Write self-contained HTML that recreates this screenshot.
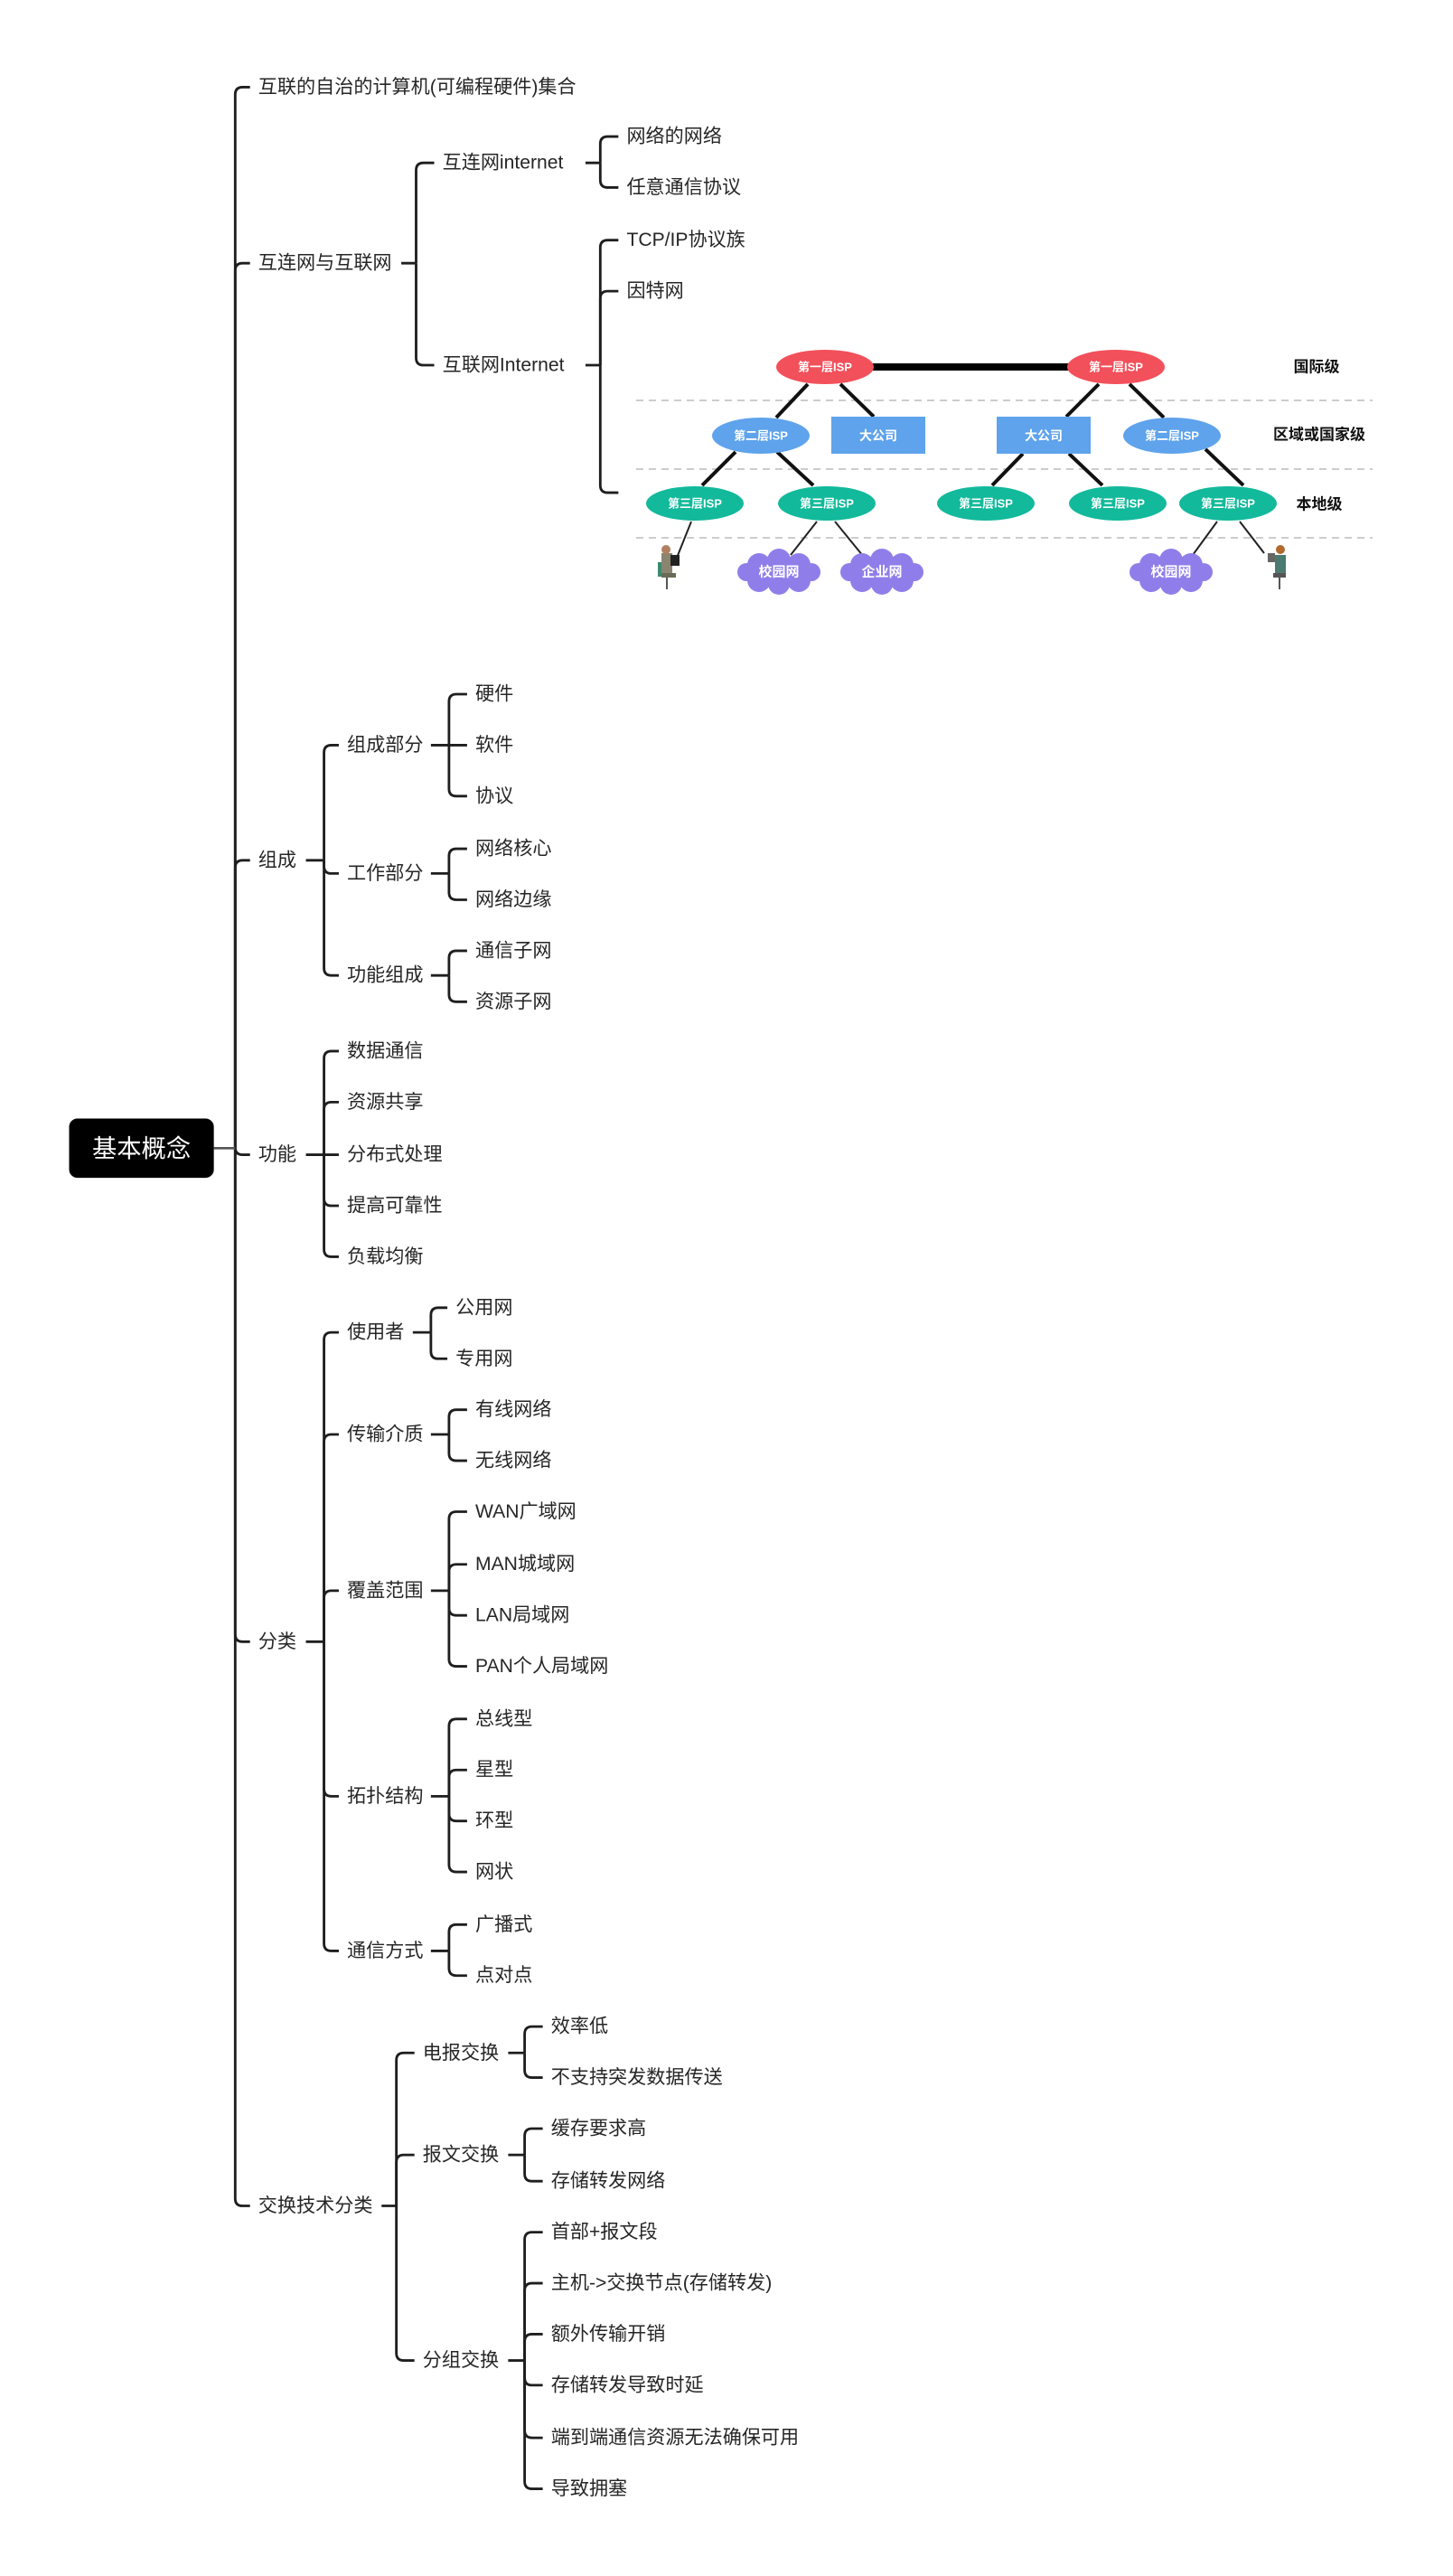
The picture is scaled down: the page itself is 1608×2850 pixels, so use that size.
<!DOCTYPE html>
<html><head><meta charset="utf-8"><style>
html,body{margin:0;padding:0;background:#fff;}
svg{display:block;}
.t{font-family:"Liberation Sans","Noto Sans CJK SC",sans-serif;font-size:11.6px;fill:#262626;dominant-baseline:central;}
.c{fill:none;stroke:#1e1e1e;stroke-width:1.55;stroke-linecap:butt;}
.w{font-family:"Liberation Sans","Noto Sans CJK SC",sans-serif;font-weight:bold;fill:#fff;text-anchor:middle;dominant-baseline:central;}
.k{font-family:"Liberation Sans","Noto Sans CJK SC",sans-serif;font-weight:bold;fill:#111;text-anchor:middle;dominant-baseline:central;}
</style></head><body>
<svg id="s" width="1608" height="2850" viewBox="0 0 883.5 1566" xmlns="http://www.w3.org/2000/svg">
<g id="conn"></g>
<!-- root -->
<line x1="130" y1="698" x2="143" y2="698" stroke="#555" stroke-width="1.5"/>
<rect x="42" y="680" width="88" height="36" rx="5" fill="#000"/>
<text x="86" y="698" class="w" style="font-weight:normal;font-size:15px">基本概念</text>

<!-- level 1 -->
<text class="t" x="157" y="53">互联的自治的计算机(可编程硬件)集合</text>
<text class="t" x="157" y="160">互连网与互联网</text>
<text class="t" x="157" y="523">组成</text>
<text class="t" x="157" y="702">功能</text>
<text class="t" x="157" y="998">分类</text>
<text class="t" x="157" y="1341">交换技术分类</text>

<text class="t" x="269" y="99">互连网internet</text>
<text class="t" x="269" y="222">互联网Internet</text>
<text class="t" x="381" y="83">网络的网络</text>
<text class="t" x="381" y="114">任意通信协议</text>
<text class="t" x="381" y="146">TCP/IP协议族</text>
<text class="t" x="381" y="177">因特网</text>

<text class="t" x="211" y="453">组成部分</text>
<text class="t" x="211" y="531">工作部分</text>
<text class="t" x="211" y="593">功能组成</text>
<text class="t" x="289" y="422">硬件</text>
<text class="t" x="289" y="453">软件</text>
<text class="t" x="289" y="484">协议</text>
<text class="t" x="289" y="516">网络核心</text>
<text class="t" x="289" y="547">网络边缘</text>
<text class="t" x="289" y="578">通信子网</text>
<text class="t" x="289" y="609">资源子网</text>

<text class="t" x="211" y="639">数据通信</text>
<text class="t" x="211" y="670">资源共享</text>
<text class="t" x="211" y="702">分布式处理</text>
<text class="t" x="211" y="733">提高可靠性</text>
<text class="t" x="211" y="764">负载均衡</text>

<text class="t" x="211" y="810">使用者</text>
<text class="t" x="211" y="872">传输介质</text>
<text class="t" x="211" y="967">覆盖范围</text>
<text class="t" x="211" y="1092">拓扑结构</text>
<text class="t" x="211" y="1186">通信方式</text>
<text class="t" x="277" y="795">公用网</text>
<text class="t" x="277" y="826">专用网</text>
<text class="t" x="289" y="857">有线网络</text>
<text class="t" x="289" y="888">无线网络</text>
<text class="t" x="289" y="919">WAN广域网</text>
<text class="t" x="289" y="951">MAN城域网</text>
<text class="t" x="289" y="982">LAN局域网</text>
<text class="t" x="289" y="1013">PAN个人局域网</text>
<text class="t" x="289" y="1045">总线型</text>
<text class="t" x="289" y="1076">星型</text>
<text class="t" x="289" y="1107">环型</text>
<text class="t" x="289" y="1138">网状</text>
<text class="t" x="289" y="1170">广播式</text>
<text class="t" x="289" y="1201">点对点</text>

<text class="t" x="257" y="1248">电报交换</text>
<text class="t" x="257" y="1310">报文交换</text>
<text class="t" x="257" y="1435">分组交换</text>
<text class="t" x="335" y="1232">效率低</text>
<text class="t" x="335" y="1263">不支持突发数据传送</text>
<text class="t" x="335" y="1294">缓存要求高</text>
<text class="t" x="335" y="1326">存储转发网络</text>
<text class="t" x="335" y="1357">首部+报文段</text>
<text class="t" x="335" y="1388">主机-&gt;交换节点(存储转发)</text>
<text class="t" x="335" y="1419">额外传输开销</text>
<text class="t" x="335" y="1450">存储转发导致时延</text>
<text class="t" x="335" y="1482">端到端通信资源无法确保可用</text>
<text class="t" x="335" y="1513">导致拥塞</text>

<!-- ISP diagram in original pixel coords -->
<g transform="scale(0.54945)">
  <g stroke="#ccc" stroke-width="2" stroke-dasharray="8,6">
    <line x1="704" y1="443" x2="1519" y2="443"/>
    <line x1="704" y1="519" x2="1519" y2="519"/>
    <line x1="704" y1="595" x2="1519" y2="595"/>
  </g>
  <g stroke="#111" stroke-width="4">
    <line x1="894" y1="425" x2="859" y2="462"/>
    <line x1="930" y1="425" x2="967" y2="461"/>
    <line x1="1216" y1="425" x2="1180" y2="461"/>
    <line x1="1250" y1="425" x2="1288" y2="462"/>
    <line x1="814" y1="500" x2="777" y2="537"/>
    <line x1="860" y1="500" x2="900" y2="537"/>
    <line x1="1132" y1="502" x2="1098" y2="537"/>
    <line x1="1183" y1="502" x2="1220" y2="537"/>
    <line x1="1334" y1="497" x2="1376" y2="537"/>
  </g>
  <g stroke="#222" stroke-width="2">
    <line x1="765" y1="577" x2="747" y2="622"/>
    <line x1="904" y1="577" x2="875" y2="614"/>
    <line x1="924" y1="577" x2="955" y2="615"/>
    <line x1="1347" y1="577" x2="1320" y2="614"/>
    <line x1="1372" y1="577" x2="1399" y2="612"/>
  </g>
  <line x1="960" y1="406" x2="1190" y2="406" stroke="#000" stroke-width="8"/>
  <ellipse cx="913" cy="406" rx="54" ry="19" fill="#f2505b"/>
  <ellipse cx="1235" cy="406" rx="54" ry="19" fill="#f2505b"/>
  <text class="w" x="913" y="406" font-size="13">第一层ISP</text>
  <text class="w" x="1235" y="406" font-size="13">第一层ISP</text>
  <ellipse cx="842" cy="482" rx="54" ry="20" fill="#5ea3ec"/>
  <ellipse cx="1297" cy="482" rx="54" ry="20" fill="#5ea3ec"/>
  <text class="w" x="842" y="482" font-size="13">第二层ISP</text>
  <text class="w" x="1297" y="482" font-size="13">第二层ISP</text>
  <rect x="920" y="461" width="104" height="41" fill="#5ea3ec"/>
  <rect x="1103" y="461" width="104" height="41" fill="#5ea3ec"/>
  <text class="w" x="972" y="482" font-size="14">大公司</text>
  <text class="w" x="1155" y="482" font-size="14">大公司</text>
  <g fill="#12b99b">
    <ellipse cx="769" cy="557" rx="54" ry="19"/>
    <ellipse cx="915" cy="557" rx="54" ry="19"/>
    <ellipse cx="1091" cy="557" rx="54" ry="19"/>
    <ellipse cx="1237" cy="557" rx="54" ry="19"/>
    <ellipse cx="1359" cy="557" rx="54" ry="19"/>
  </g>
  <text class="w" x="769" y="557" font-size="13">第三层ISP</text>
  <text class="w" x="915" y="557" font-size="13">第三层ISP</text>
  <text class="w" x="1091" y="557" font-size="13">第三层ISP</text>
  <text class="w" x="1237" y="557" font-size="13">第三层ISP</text>
  <text class="w" x="1359" y="557" font-size="13">第三层ISP</text>
  <g fill="#8f7ee9">
    <g transform="translate(862,633)"><ellipse rx="40" ry="17"/><circle cx="-22" cy="-8" r="13"/><circle cx="0" cy="-13" r="13"/><circle cx="22" cy="-8" r="13"/><circle cx="-22" cy="9" r="13"/><circle cx="0" cy="13" r="12"/><circle cx="22" cy="9" r="13"/><circle cx="-36" cy="0" r="10"/><circle cx="36" cy="0" r="10"/></g>
    <g transform="translate(976,633)"><ellipse rx="40" ry="17"/><circle cx="-22" cy="-8" r="13"/><circle cx="0" cy="-13" r="13"/><circle cx="22" cy="-8" r="13"/><circle cx="-22" cy="9" r="13"/><circle cx="0" cy="13" r="12"/><circle cx="22" cy="9" r="13"/><circle cx="-36" cy="0" r="10"/><circle cx="36" cy="0" r="10"/></g>
    <g transform="translate(1296,633)"><ellipse rx="40" ry="17"/><circle cx="-22" cy="-8" r="13"/><circle cx="0" cy="-13" r="13"/><circle cx="22" cy="-8" r="13"/><circle cx="-22" cy="9" r="13"/><circle cx="0" cy="13" r="12"/><circle cx="22" cy="9" r="13"/><circle cx="-36" cy="0" r="10"/><circle cx="36" cy="0" r="10"/></g>
  </g>
  <text class="w" x="862" y="633" font-size="15">校园网</text>
  <text class="w" x="976" y="633" font-size="15">企业网</text>
  <text class="w" x="1296" y="633" font-size="15">校园网</text>
  <!-- persons -->
  <g transform="translate(740,630)">
    <rect x="-8" y="-18" width="12" height="22" fill="#8a8470"/>
    <circle cx="-3" cy="-22" r="5" fill="#b08060"/>
    <rect x="2" y="-16" width="10" height="12" fill="#222"/>
    <rect x="-8" y="4" width="16" height="5" fill="#6a6a55"/>
    <line x1="-2" y1="9" x2="-2" y2="22" stroke="#555" stroke-width="2"/>
    <rect x="-12" y="-8" width="4" height="16" fill="#3a8a70"/>
  </g>
  <g transform="translate(1415,630)">
    <rect x="-4" y="-16" width="12" height="20" fill="#4a7a70"/>
    <circle cx="2" cy="-22" r="5" fill="#b06a30"/>
    <rect x="-12" y="-18" width="8" height="10" fill="#666"/>
    <rect x="-6" y="4" width="14" height="5" fill="#555"/>
    <line x1="1" y1="9" x2="1" y2="22" stroke="#555" stroke-width="2"/>
  </g>
  <text class="k" x="1457" y="406" font-size="17">国际级</text>
  <text class="k" x="1460" y="481" font-size="17">区域或国家级</text>
  <text class="k" x="1460" y="558" font-size="17">本地级</text>
</g>
</svg>
<script>
(function(){
var g=document.getElementById('conn');var ns='http://www.w3.org/2000/svg';var r=4.5;
function p(d){var e=document.createElementNS(ns,'path');e.setAttribute('d',d);e.setAttribute('class','c');g.appendChild(e);}
function br(x0,yp,X,cx,ys){
 if(x0<X)p('M'+x0+','+yp+' L'+X+','+yp);
 ys.forEach(function(y){
  var e=cx-5;
  if(Math.abs(y-yp)<1.5){p('M'+X+','+y+' L'+e+','+y);}
  else{var s=y>yp?1:-1;p('M'+X+','+yp+' L'+X+','+(y-s*r)+' Q'+X+','+y+' '+(X+r)+','+y+' L'+e+','+y);}
 });
}
br(143,698,143,157,[53,160,523,702,998,1341]);
br(244,160,253,269,[99,222]);
br(356,99,365,381,[83,114]);
br(356,222,365,381,[146,177,299.5]);
br(186,523,197,211,[453,531,593]);
br(262,453,273,289,[422,453,484]);
br(262,531,273,289,[516,547]);
br(262,593,273,289,[578,609]);
br(186,702,197,211,[639,670,702,733,764]);
br(186,998,197,211,[810,872,967,1092,1186]);
br(251,810,262,277,[795,826]);
br(262,872,273,289,[857,888]);
br(262,967,273,289,[919,951,982,1013]);
br(262,1092,273,289,[1045,1076,1107,1138]);
br(262,1186,273,289,[1170,1201]);
br(232,1341,241,257,[1248,1310,1435]);
br(309,1248,319,335,[1232,1263]);
br(309,1310,319,335,[1294,1326]);
br(309,1435,319,335,[1357,1388,1419,1450,1482,1513]);
})();
</script>
</body></html>
